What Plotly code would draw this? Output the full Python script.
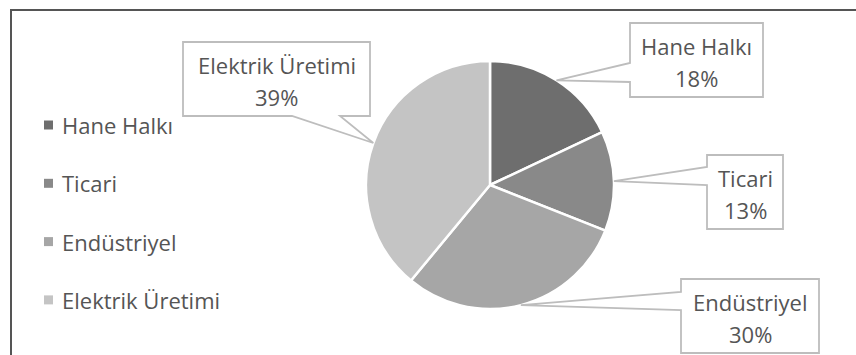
import math
import plotly.graph_objects as go

# Energy consumption shares by sector
sectors = ["Hane Halkı", "Ticari", "Endüstriyel", "Elektrik Üretimi"]
shares = [18, 13, 30, 39]
share_labels = ["18%", "13%", "30%", "39%"]
colors = ["#6e6e6e", "#898989", "#a6a6a6", "#c4c4c4"]

W, H = 856, 355
CX, CY, R = 490, 185, 124          # pie centre and radius in pixels
FONT = "Open Sans"
TEXT_COLOR = "#555555"
FS = 22


def px(x):
    return x / W


def py(y):
    return 1 - y / H


fig = go.Figure()
fig.add_trace(go.Pie(
    labels=sectors,
    values=shares,
    sort=False,
    direction="clockwise",
    rotation=0,
    marker=dict(colors=colors, line=dict(color="white", width=2.5)),
    textinfo="none",
    hoverinfo="label+percent",
    showlegend=False,
    domain=dict(x=[px(CX - R), px(CX + R)], y=[py(CY + R), py(CY - R)]),
))

shapes = []
annotations = []

# outer frame (right and bottom edges run past the page)
shapes.append(dict(type="rect", xref="paper", yref="paper",
                   x0=px(11), y0=py(10), x1=px(W + 20), y1=py(H + 20),
                   line=dict(color="#555555", width=2), fillcolor="rgba(0,0,0,0)"))

# callout boxes: (x0, y0, x1, y1, side of pointer, base start, base end)
boxes = [
    (630, 23, 763, 97, "left", 63, 82),
    (707, 155, 783, 229, "left", 167, 185),
    (681, 279, 819, 353, "left", 292, 310),
    (183, 42, 370, 116, "bottom", 292, 340),
]

total = sum(shares)
start = 0.0
for i, (name, val) in enumerate(zip(sectors, shares)):
    mid = (start + val / 2) / total * 2 * math.pi
    start += val
    tx = CX + R * math.sin(mid)
    ty = CY - R * math.cos(mid)
    x0, y0, x1, y1, side, b0, b1 = boxes[i]
    if side == "left":
        pts = [(x0, y0), (x1, y0), (x1, y1), (x0, y1), (x0, b1), (tx, ty), (x0, b0)]
    else:
        pts = [(x0, y0), (x1, y0), (x1, y1), (b1, y1), (tx, ty), (b0, y1), (x0, y1)]
    path = "M " + " L ".join(f"{px(a):.5f},{py(b):.5f}" for a, b in pts) + " Z"
    shapes.append(dict(type="path", xref="paper", yref="paper", path=path,
                       line=dict(color="#bdbdbd", width=1.8), fillcolor="white"))
    cx = (x0 + x1) / 2
    annotations.append(dict(x=px(cx), y=py(y0 + 23), xref="paper", yref="paper",
                            text=name, showarrow=False, xanchor="center", yanchor="middle",
                            font=dict(family=FONT, size=FS, color=TEXT_COLOR)))
    annotations.append(dict(x=px(cx), y=py(y0 + 55), xref="paper", yref="paper",
                            text=share_labels[i], showarrow=False, xanchor="center",
                            yanchor="middle",
                            font=dict(family=FONT, size=FS, color=TEXT_COLOR)))

# legend on the left
for i, name in enumerate(sectors):
    ly = 125 + i * 58.3
    shapes.append(dict(type="rect", xref="paper", yref="paper",
                       x0=px(44), x1=px(53), y0=py(ly + 4.5), y1=py(ly - 4.5),
                       line=dict(width=0), fillcolor=colors[i]))
    annotations.append(dict(x=px(60), y=py(ly), xref="paper", yref="paper",
                            text=name, showarrow=False, xanchor="left", yanchor="middle",
                            font=dict(family=FONT, size=FS, color=TEXT_COLOR)))

fig.update_layout(
    width=W, height=H,
    margin=dict(l=0, r=0, t=0, b=0),
    paper_bgcolor="white",
    plot_bgcolor="white",
    shapes=shapes,
    annotations=annotations,
    showlegend=False,
)

fig.write_html("out.html")
